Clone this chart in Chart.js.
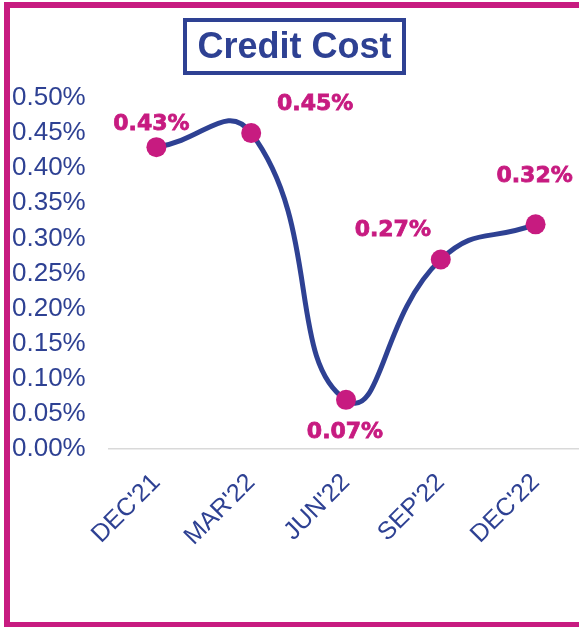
<!DOCTYPE html>
<html>
<head>
<meta charset="utf-8">
<script src="https://cdn.jsdelivr.net/npm/chart.js@4.4.1/dist/chart.umd.min.js"></script>
<style>
    html, body { margin: 0; padding: 0; background: #fff; overflow: hidden; }
    #wrap { width: 579px; height: 627px; overflow: hidden; }
</style>
</head>
<body>
<div id="wrap"><canvas id="creditChart" width="583" height="627"></canvas></div>
<script>
// Données du graphique
const chartTitle = 'Credit Cost';
const quarters = ["DEC'21", "MAR'22", "JUN'22", "SEP'22", "DEC'22"];
const creditCost = [0.43, 0.45, 0.07, 0.27, 0.32];
const yTickValues = [0, 0.05, 0.10, 0.15, 0.20, 0.25, 0.30, 0.35, 0.40, 0.45, 0.50];

// Couleurs et décalages des étiquettes (style seulement)
const BLUE = '#2E4193';
const MAGENTA = '#C71B80';
const labelOffsets = [[-5, -23], [64, -29], [-1, 32], [-48, -29], [-1, -48]];

const fmt = (v) => Number(v).toFixed(2) + '%';

// Cadre magenta + titre encadré
const framePlugin = {
    id: 'frame',
    beforeDraw(chart) {
        const ctx = chart.ctx;
        ctx.save();
        ctx.fillStyle = '#fff';
        ctx.fillRect(0, 0, chart.width, chart.height);
        ctx.fillStyle = MAGENTA;
        ctx.fillRect(4, 2, chart.width - 4, 6);   // haut
        ctx.fillRect(4, 2, 6, 625);               // gauche
        ctx.fillRect(4, 622, chart.width - 4, 5); // bas

        ctx.font = 'bold 36px "Liberation Sans", Arial, sans-serif';
        ctx.fillStyle = BLUE;
        ctx.textAlign = 'center';
        ctx.textBaseline = 'middle';
        ctx.fillText(chartTitle, 294.5, 48);
        ctx.strokeStyle = BLUE;
        ctx.lineWidth = 4;
        ctx.strokeRect(185, 20, 219, 53);
        ctx.restore();
    },
    afterDatasetsDraw(chart) {
        const ctx = chart.ctx;
        const meta = chart.getDatasetMeta(0);
        ctx.save();
        ctx.font = 'bold 22px "DejaVu Sans", sans-serif';
        ctx.fillStyle = MAGENTA;
        ctx.strokeStyle = MAGENTA;
        ctx.lineWidth = 0.8;
        ctx.textAlign = 'center';
        ctx.textBaseline = 'middle';
        meta.data.forEach((pt, i) => {
            const [dx, dy] = labelOffsets[i];
            const txt = fmt(creditCost[i]);
            ctx.fillText(txt, pt.x + dx, pt.y + dy);
            ctx.strokeText(txt, pt.x + dx, pt.y + dy);
        });
        ctx.restore();
    }
};

new Chart(document.getElementById('creditChart'), {
    type: 'line',
    data: {
        labels: quarters,
        datasets: [{
            data: creditCost,
            borderColor: BLUE,
            borderWidth: 5,
            tension: 0.5,
            pointRadius: 10,
            pointHoverRadius: 10,
            pointBackgroundColor: MAGENTA,
            pointBorderWidth: 0,
            clip: false
        }]
    },
    options: {
        responsive: false,
        animation: false,
        layout: {
            autoPadding: false,
            padding: { left: 12, right: 0, top: 98, bottom: 0 }
        },
        plugins: {
            legend: { display: false },
            tooltip: { enabled: false },
            title: { display: false }
        },
        scales: {
            x: {
                offset: true,
                grid: { display: false },
                border: { display: true, color: '#D9D9D9', width: 1.5 },
                ticks: {
                    color: BLUE,
                    font: { family: '"Liberation Sans", Arial, sans-serif', size: 25 },
                    minRotation: 45,
                    maxRotation: 45,
                    padding: 11
                },
                afterFit: (s) => {
                    s.height = 178;
                    s.paddingRight = 0;
                    s.paddingLeft = 0;
                }
            },
            y: {
                min: 0,
                max: 0.5,
                grid: { display: false },
                border: { display: false },
                afterBuildTicks: (s) => { s.ticks = yTickValues.map(v => ({ value: v })); },
                ticks: {
                    color: BLUE,
                    autoSkip: false,
                    crossAlign: 'far',
                    font: { family: '"Liberation Sans", Arial, sans-serif', size: 26 },
                    callback: (v) => fmt(v)
                },
                afterFit: (s) => { s.width = 97; }
            }
        }
    },
    plugins: [framePlugin]
});
</script>
</body>
</html>
